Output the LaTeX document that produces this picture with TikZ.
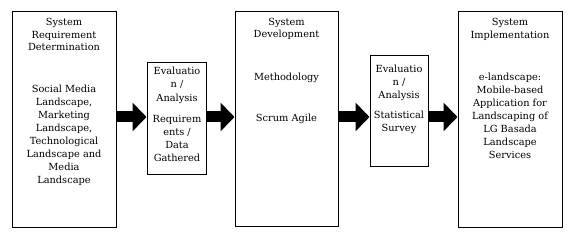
\documentclass[tikz,border=0pt]{standalone}
\usepackage{fontspec}
\setmainfont{DejaVu Serif}
\usetikzlibrary{arrows.meta}
\begin{document}
\begin{tikzpicture}[x=1pt,y=-1pt,
  stage/.style={draw=black,line width=1pt,rectangle,inner sep=0pt},
  txt/.style={anchor=north,align=center,inner sep=0pt,
    font=\fontsize{9.8}{13}\selectfont},
  ttl/.style={txt,font=\fontsize{9.8}{12.2}\selectfont},
  bigarrow/.style={line width=11pt,-{Triangle[length=14pt,width=28pt]}}]
\useasboundingbox (0,0) rectangle (576,240);

% stage boxes
\node[stage,minimum width=104pt,minimum height=216pt] (b1) at (64,120) {};
\node[stage,minimum width=59pt,minimum height=112pt] (b2) at (176.5,119) {};
\node[stage,minimum width=103pt,minimum height=215pt] (b3) at (286.5,119.5) {};
\node[stage,minimum width=58pt,minimum height=111pt] (b4) at (399,111.5) {};
\node[stage,minimum width=104pt,minimum height=216pt] (b5) at (510,120) {};

% texts
\node[ttl] (t1) at (64,18.5) {System\\Requirement\\Determination};
\node[txt] (s1) at (64,84.5) {Social Media\\Landscape,\\Marketing\\Landscape,\\Technological\\Landscape and\\Media\\Landscape};

\node[txt,font=\fontsize{9.8}{13.5}\selectfont] (t2) at (177,66.5) {Evaluatio\\n /\\Analysis};
\node[txt] (s2) at (177,115) {Requirem\\ents /\\Data\\Gathered};

\node[ttl] (t3) at (286.5,18) {System\\Development};
\node[txt] (s3a) at (286.5,73) {Methodology};
\node[txt] (s3b) at (286.5,114) {Scrum Agile};

\node[txt,font=\fontsize{9.8}{13.3}\selectfont] (t4) at (399,64.5) {Evaluatio\\n /\\Analysis};
\node[txt] (s4) at (399,111) {Statistical\\Survey};

\node[ttl] (t5) at (510,18.5) {System\\Implementation};
\node[txt] (s5) at (510,73) {e-landscape:\\Mobile-based\\Application for\\Landscaping of\\LG Basada\\Landscape\\Services};

% block arrows between stages
\draw[bigarrow] (b1.east |- 0,117) -- (b2.west |- 0,117);
\draw[bigarrow] (b2.east |- 0,117) -- (b3.west |- 0,117);
\draw[bigarrow] (b3.east |- 0,117) -- (b4.west |- 0,117);
\draw[bigarrow] (b4.east |- 0,117) -- (b5.west |- 0,117);
\end{tikzpicture}
\end{document}
